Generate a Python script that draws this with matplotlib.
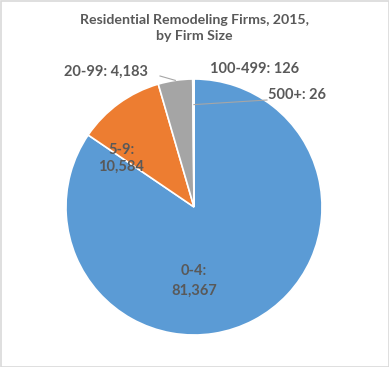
import matplotlib.pyplot as plt
import numpy as np

plt.rcParams['font.family'] = ['Lato', 'DejaVu Sans']

categories = ["0-4", "5-9", "20-99", "100-499", "500+"]
firms = [81367, 10584, 4183, 126, 26]
colors = ["#5B9BD5", "#ED7D31", "#A5A5A5", "#FFC000", "#4472C4"]

W, H = 389, 367
fig = plt.figure(figsize=(W / 100, H / 100), dpi=100)
ax = fig.add_axes([0, 0, 1, 1])

cx, cy, r = 194, H - 207, 128
wedges, _ = ax.pie(firms, colors=colors, startangle=90, counterclock=False,
                   center=(cx, cy), radius=r, frame=True,
                   wedgeprops=dict(edgecolor="white", linewidth=1.2))
ax.set_xlim(0, W)
ax.set_ylim(0, H)
ax.set_aspect("equal")
ax.axis("off")

# light frame around the chart
fig.patches.append(plt.Rectangle((0.5 / W, 0.5 / H), 1 - 1 / W, 1 - 1 / H,
                                 transform=fig.transFigure, fill=False,
                                 edgecolor="#D9D9D9", linewidth=1.2))

tc = "#595959"
ax.text(cx, H - 28, "Residential Remodeling Firms, 2015,\nby Firm Size",
        ha="center", va="center", fontsize=10.2, fontweight="bold",
        color=tc, linespacing=1.3)

lbl = dict(fontsize=10.5, fontweight="bold", color=tc, ha="center", va="center")
ax.text(194, H - 281, f"{categories[0]}:\n{firms[0]:,}", linespacing=1.5, **lbl)
ax.text(121, H - 158, f"{categories[1]}:\n{firms[1]:,}", linespacing=1.25, **lbl)
ax.text(106, H - 72, f"{categories[2]}: {firms[2]:,}", **lbl)
ax.text(255, H - 69, f"{categories[3]}: {firms[3]:,}", **lbl)
ax.text(297, H - 95, f"{categories[4]}: {firms[4]:,}", **lbl)

# leader lines to the small slices
def edge_point(w, frac=1.0):
    a = np.deg2rad((w.theta1 + w.theta2) / 2)
    return cx + r * frac * np.cos(a), cy + r * frac * np.sin(a)

x2, y2 = edge_point(wedges[2])
ax.plot([160, x2], [H - 76, y2], color="#A6A6A6", lw=0.8)
x4, y4 = edge_point(wedges[4], 0.8)
ax.plot([267, x4], [H - 100, y4], color="#A6A6A6", lw=0.8)

fig.savefig("out.png", dpi=100)
